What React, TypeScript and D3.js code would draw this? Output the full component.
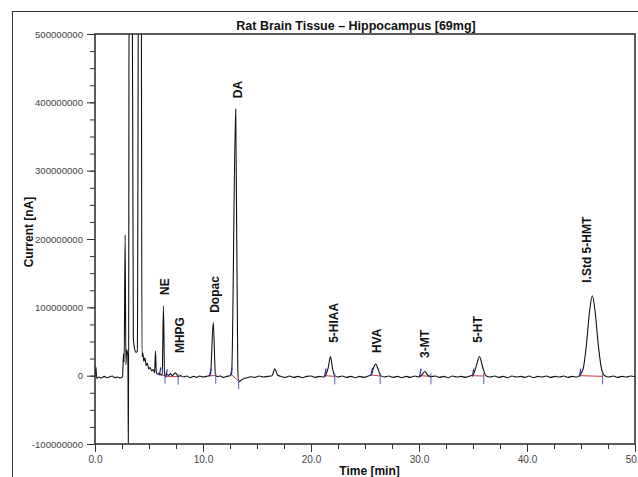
import React, { useEffect, useRef } from 'react'
import * as d3 from 'd3'

const title = 'Rat Brain Tissue – Hippocampus [69mg]'
const xTitle = 'Time [min]'
const yTitle = 'Current [nA]'

const xTicks = [0, 10, 20, 30, 40, 50]
const yTicks = [-100000000, 0, 100000000, 200000000, 300000000, 400000000, 500000000]

// detector trace: time in min, current in millions of nA
const traceTime = [
  0.0, 0.08, 0.16, 0.35, 0.6, 0.85, 1.1, 1.35, 1.6, 1.85, 2.1, 2.35, 2.55,
  2.64, 2.7, 2.79, 2.86, 2.94, 3.04, 3.1, 3.17, 3.42, 3.55, 3.68, 3.8, 3.92,
  4.05, 4.27, 4.35, 4.43, 4.52, 4.62, 4.74, 4.85, 4.97, 5.1, 5.25, 5.4, 5.52,
  5.6, 5.68, 5.8, 5.95, 6.1, 6.22, 6.34, 6.44, 6.55, 6.7, 6.85, 7.0, 7.15,
  7.3, 7.45, 7.6, 7.72, 7.9, 8.2, 8.5, 8.8, 9.1, 9.4, 9.7, 10.0, 10.3, 10.55,
  10.7, 10.95, 11.15, 11.35, 11.6, 11.9, 12.2, 12.5, 12.65, 13.03, 13.22,
  13.32, 13.5, 13.8, 14.1, 14.4, 14.8, 15.2, 15.6, 16.0, 16.4, 16.65, 16.9,
  17.2, 17.6, 18.0, 18.4, 18.8, 19.2, 19.6, 20.0, 20.4, 20.8, 21.2, 21.4,
  21.6, 21.8, 22.0, 22.2, 22.5, 22.9, 23.3, 23.7, 24.1, 24.5, 24.9, 25.3,
  25.6, 25.8, 26.0, 26.2, 26.45, 26.8, 27.2, 27.6, 28.0, 28.4, 28.8, 29.2,
  29.6, 30.0, 30.3, 30.55, 30.8, 31.1, 31.5, 31.9, 32.3, 32.7, 33.1, 33.5,
  33.9, 34.3, 34.7, 35.0, 35.3, 35.6, 35.9, 36.2, 36.6, 37.0, 37.4, 37.8,
  38.2, 38.6, 39.0, 39.4, 39.8, 40.2, 40.6, 41.0, 41.4, 41.8, 42.2, 42.6,
  43.0, 43.4, 43.8, 44.2, 44.6, 44.9, 45.2, 45.5, 45.8, 46.05, 46.3, 46.6,
  46.9, 47.2, 47.6, 48.0, 48.4, 48.8, 49.2, 49.6, 50.0
]
const traceValue = [
  -1, 13, -4, -2, -3.5, -1, -3, -1.5, -0.5, -3, -2, -3.5, -1.5,
  32, 20, 206, 16, 38, 28, -130, 720, 720, 55, 38, 34, 36,
  720, 720, 28, 33, 21, 26, 15, 18, 10, 12, 7, 9, 4,
  36, 5, 2, 4, 1, 2, 102, 1, -1, 2, 0.5, 3, 0,
  2.5, 4, 1, -1.5, 0, -2, -0.5, -3, -1, -2.5, -0.5, -2, -1, 0,
  3, 78, 1, -1.5, -0.5, -2.5, -1, 0, 3, 390, 8,
  -9, -7, -4, -3, -1.5, -2.5, -0.5, -2, -1, 0, 10, 1,
  -1, -2.5, -0.5, -2.5, -1, -3, -1, -0.5, -2.5, -1, -2, 2,
  12, 28, 10, 0, -2, -0.5, -2.5, -1, -3, -1, -2.5, -0.5,
  2, 12, 17, 10, 0, -2, -0.5, -2.5, -1, -3, -1, -2.5,
  -0.5, -2, 2, 6, 1, -1.5, -0.5, -2.5, -1, -3, -0.5, -2,
  -1, -2.5, -0.5, 1, 14, 28, 12, 0, -2, -0.5, -2.5, -1,
  -3, -0.5, -2, -1, -2.5, -0.5, -3, -1, -2, -0.5, -2.5, -1,
  -2, -0.5, -2.5, -1, -2, 1, 10, 45, 95, 117, 95, 45,
  10, 0, -2, -0.5, -2.5, -1, -2, -0.5, -1.5
]

// integrated peaks
const peakNames = ['NE', 'MHPG', 'Dopac', 'DA', '5-HIAA', 'HVA', '3-MT', '5-HT', 'I.Std 5-HMT']
const peakStart = [6.0, 6.6, 10.65, 12.6, 21.3, 25.6, 30.1, 34.98, 44.9]
const peakEnd = [6.48, 7.7, 11.18, 13.3, 22.2, 26.4, 31.1, 36.0, 47.0]
const peakStartValue = [2, -1, 0, 2, 0, 1, 0, 0, 0]
const peakEndValue = [0, -1.5, 0, -8, -1, -0.5, -1, -0.5, -1]
const labelTime = [6.39, 7.8, 11.1, 13.15, 22.04, 26.1, 30.55, 35.46, 45.55]
const labelValue = [118, 33, 92, 406, 48, 33, 26, 48, 136]

const font = 'Arial, "Liberation Sans", sans-serif'

const App = () => {
  const svgRef = useRef<SVGSVGElement>(null)

  useEffect(() => {
    const svg = d3.select(svgRef.current)
    svg.selectAll('*').remove()

    const x = d3.scaleLinear().domain([0, 50]).range([95, 635])
    const y = d3.scaleLinear().domain([-100000000, 500000000]).range([444, 34])
    const M = 1000000

    // outer frame
    svg.append('rect')
      .attr('x', 12.5).attr('y', 11.5)
      .attr('width', 700).attr('height', 600)
      .attr('fill', 'none').attr('stroke', '#333').attr('stroke-width', 1)

    svg.append('text')
      .attr('x', 356).attr('y', 29.5)
      .attr('text-anchor', 'middle')
      .attr('font-family', font).attr('font-size', 12.5).attr('font-weight', 'bold')
      .attr('fill', '#111')
      .text(title)

    // minor ticks
    const yMinor = svg.append('g').attr('transform', 'translate(95,0)')
      .call(d3.axisLeft(y).tickValues(d3.range(-100000000, 500000001, 25000000)).tickSize(5).tickFormat(() => ''))
    yMinor.select('.domain').remove()
    const xMinor = svg.append('g').attr('transform', 'translate(0,444)')
      .call(d3.axisBottom(x).tickValues(d3.range(0, 50.01, 2.5)).tickSize(5).tickFormat(() => ''))
    xMinor.select('.domain').remove()

    const yAxis = svg.append('g').attr('transform', 'translate(95,0)')
      .call(d3.axisLeft(y).tickValues(yTicks).tickSize(8).tickPadding(4).tickFormat(d => String(d)))
    yAxis.select('.domain').remove()
    yAxis.selectAll('text').attr('font-family', font).attr('font-size', 9.6).attr('fill', '#444')

    const xAxis = svg.append('g').attr('transform', 'translate(0,444)')
      .call(d3.axisBottom(x).tickValues(xTicks).tickSize(8).tickPadding(4).tickFormat(d3.format('.1f')))
    xAxis.select('.domain').remove()
    xAxis.selectAll('text').attr('font-family', font).attr('font-size', 10).attr('fill', '#444')

    svg.selectAll('.tick line').attr('stroke', '#333')

    svg.append('text')
      .attr('x', 369.5).attr('y', 474.5)
      .attr('text-anchor', 'middle')
      .attr('font-family', font).attr('font-size', 12).attr('font-weight', 'bold')
      .attr('fill', '#111')
      .text(xTitle)

    svg.append('text')
      .attr('transform', 'translate(33,232) rotate(-90)')
      .attr('text-anchor', 'middle')
      .attr('font-family', font).attr('font-size', 12).attr('font-weight', 'bold')
      .attr('fill', '#111')
      .text(yTitle)

    svg.append('clipPath').attr('id', 'plot-clip')
      .append('rect').attr('x', 95).attr('y', 34).attr('width', 540).attr('height', 410)

    const trace = traceTime.map((t, i) => [t, traceValue[i]])
    const line = d3.line<number[]>()
      .x(d => x(d[0]))
      .y(d => y(d[1] * M))
      .curve(d3.curveMonotoneX)

    // integration baselines
    peakNames.forEach((name, i) => {
      const xs = x(peakStart[i]), ys = y(peakStartValue[i] * M)
      const xe = x(peakEnd[i]), ye = y(peakEndValue[i] * M)
      svg.append('line')
        .attr('x1', xs).attr('y1', ys).attr('x2', xe).attr('y2', ye)
        .attr('stroke', '#d0383c').attr('stroke-width', 1)
    })

    svg.append('path')
      .datum(trace)
      .attr('clip-path', 'url(#plot-clip)')
      .attr('d', line)
      .attr('fill', 'none')
      .attr('stroke', '#111')
      .attr('stroke-width', 1.1)

    peakNames.forEach((name, i) => {
      const xs = x(peakStart[i]), ys = y(peakStartValue[i] * M)
      const xe = x(peakEnd[i]), ye = y(peakEndValue[i] * M)
      svg.append('line')
        .attr('x1', xs - 0.5).attr('y1', ys + 1).attr('x2', xs + 1).attr('y2', ys - 7)
        .attr('stroke', '#2a2aa8').attr('stroke-width', 1.2)
      svg.append('line')
        .attr('x1', xe).attr('y1', ye - 3).attr('x2', xe).attr('y2', ye + 8)
        .attr('stroke', '#5c5ca8').attr('stroke-width', 1)
      svg.append('text')
        .attr('transform', `translate(${x(labelTime[i]) + 4.5},${y(labelValue[i] * M)}) rotate(-90)`)
        .attr('font-family', font).attr('font-size', 12).attr('font-weight', 'bold')
        .attr('fill', '#111')
        .text(name)
    })

    // plot box
    svg.append('rect')
      .attr('x', 95).attr('y', 34).attr('width', 540).attr('height', 410)
      .attr('fill', 'none').attr('stroke', '#333').attr('stroke-width', 1.6)
  }, [])

  return (
    <svg ref={svgRef} width={638} height={477}
      style={{ position: 'absolute', left: 0, top: 0, background: '#fff' }} />
  )
}

export default App
